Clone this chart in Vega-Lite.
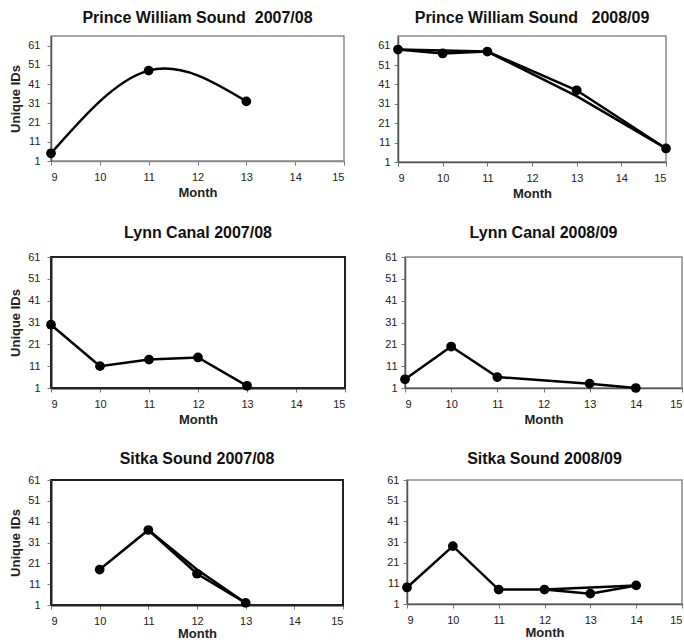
{
  "$schema": "https://vega.github.io/schema/vega-lite/v6.json",
  "padding": {"left": 8, "top": 9, "right": 0, "bottom": 0},
  "background": "white",
  "config": {
    "font": "Liberation Sans",
    "title": {"fontSize": 16, "fontWeight": "bold", "color": "#111", "offset": 10, "frame": "group", "anchor": "middle"},
    "axis": {"grid": false, "labelFontSize": 11, "labelColor": "#222", "titleFontSize": 13, "titleFontWeight": "bold", "titleColor": "#222", "tickSize": 4, "tickColor": "#777", "labelFont": "Liberation Sans", "titleFont": "Liberation Sans"},
    "axisX": {"labelPadding": 6, "titlePadding": 4},
    "axisY": {"labelPadding": 7, "titlePadding": 5},
    "line": {"color": "black", "strokeWidth": 2.5},
    "circle": {"color": "black", "opacity": 1, "size": 95}
  },
  "datasets": {
    "pts": [
      {"panel": "p1", "series": "a", "month": 9, "ids": 5},
      {"panel": "p1", "series": "a", "month": 11, "ids": 48},
      {"panel": "p1", "series": "a", "month": 13, "ids": 32},
      {"panel": "p2", "series": "a", "month": 9, "ids": 59},
      {"panel": "p2", "series": "a", "month": 10, "ids": 57},
      {"panel": "p2", "series": "a", "month": 11, "ids": 58},
      {"panel": "p2", "series": "a", "month": 13, "ids": 38},
      {"panel": "p2", "series": "a", "month": 15, "ids": 8},
      {"panel": "p2", "series": "b", "month": 9, "ids": 59},
      {"panel": "p2", "series": "b", "month": 11, "ids": 58},
      {"panel": "p2", "series": "b", "month": 13, "ids": 35},
      {"panel": "p2", "series": "b", "month": 15, "ids": 8},
      {"panel": "p3", "series": "a", "month": 9, "ids": 30},
      {"panel": "p3", "series": "a", "month": 10, "ids": 11},
      {"panel": "p3", "series": "a", "month": 11, "ids": 14},
      {"panel": "p3", "series": "a", "month": 12, "ids": 15},
      {"panel": "p3", "series": "a", "month": 13, "ids": 2},
      {"panel": "p4", "series": "a", "month": 9, "ids": 5},
      {"panel": "p4", "series": "a", "month": 10, "ids": 20},
      {"panel": "p4", "series": "a", "month": 11, "ids": 6},
      {"panel": "p4", "series": "a", "month": 13, "ids": 3},
      {"panel": "p4", "series": "a", "month": 14, "ids": 1},
      {"panel": "p5", "series": "a", "month": 10, "ids": 18},
      {"panel": "p5", "series": "a", "month": 11, "ids": 37},
      {"panel": "p5", "series": "a", "month": 12, "ids": 16},
      {"panel": "p5", "series": "a", "month": 13, "ids": 2},
      {"panel": "p5", "series": "b", "month": 11, "ids": 37},
      {"panel": "p5", "series": "b", "month": 12, "ids": 18},
      {"panel": "p5", "series": "b", "month": 13, "ids": 2},
      {"panel": "p6", "series": "a", "month": 9, "ids": 9},
      {"panel": "p6", "series": "a", "month": 10, "ids": 29},
      {"panel": "p6", "series": "a", "month": 11, "ids": 8},
      {"panel": "p6", "series": "a", "month": 12, "ids": 8},
      {"panel": "p6", "series": "a", "month": 13, "ids": 6},
      {"panel": "p6", "series": "a", "month": 14, "ids": 10},
      {"panel": "p6", "series": "b", "month": 12, "ids": 8},
      {"panel": "p6", "series": "b", "month": 13, "ids": 9},
      {"panel": "p6", "series": "b", "month": 14, "ids": 10}
    ]
  },
  "spacing": 23,
  "vconcat": [
    {
      "spacing": 31,
      "hconcat": [
        {
          "title": "Prince William Sound\u00a0 2007/08",
          "width": 293, "height": 125,
          "view": {"stroke": "#8a8a8a", "strokeWidth": 1.5},
          "data": {"name": "pts"},
          "transform": [{"filter": "datum.panel == 'p1'"}],
          "encoding": {
            "x": {"field": "month", "type": "quantitative", "scale": {"domain": [9, 15], "nice": false, "zero": false}, "axis": {"values": [9, 10, 11, 12, 13, 14, 15], "title": "Month", "domainColor": "#8a8a8a", "domainWidth": 1.5}},
            "y": {"field": "ids", "type": "quantitative", "scale": {"domain": [1, 66], "nice": false, "zero": false}, "axis": {"values": [1, 11, 21, 31, 41, 51, 61], "title": "Unique IDs", "domainColor": "#555", "domainWidth": 1.5}}
          },
          "layer": [
            {"mark": {"type": "line", "interpolate": "natural"}, "encoding": {"detail": {"field": "series"}}},
            {"transform": [{"filter": "datum.series == 'a'"}], "mark": {"type": "circle"}, "encoding": {}}
          ]
        },
        {
          "title": "Prince William Sound\u00a0\u00a0 2008/09",
          "width": 268, "height": 126,
          "view": {"stroke": "#8a8a8a", "strokeWidth": 1.5},
          "data": {"name": "pts"},
          "transform": [{"filter": "datum.panel == 'p2'"}],
          "encoding": {
            "x": {"field": "month", "type": "quantitative", "scale": {"domain": [9, 15], "nice": false, "zero": false}, "axis": {"values": [9, 10, 11, 12, 13, 14, 15], "title": "Month", "domainColor": "#555", "domainWidth": 1.5}},
            "y": {"field": "ids", "type": "quantitative", "scale": {"domain": [1, 66], "nice": false, "zero": false}, "axis": {"values": [1, 11, 21, 31, 41, 51, 61], "title": null, "labelPadding": 4, "domainColor": "#555", "domainWidth": 1.5}}
          },
          "layer": [
            {"mark": {"type": "line"}, "encoding": {"detail": {"field": "series"}}},
            {"transform": [{"filter": "datum.series == 'a'"}], "mark": {"type": "circle"}, "encoding": {}}
          ]
        }
      ]
    },
    {
      "spacing": 37,
      "hconcat": [
        {
          "title": "Lynn Canal 2007/08",
          "width": 294, "height": 131,
          "view": {"stroke": "#222", "strokeWidth": 2},
          "data": {"name": "pts"},
          "transform": [{"filter": "datum.panel == 'p3'"}],
          "encoding": {
            "x": {"field": "month", "type": "quantitative", "scale": {"domain": [9, 15], "nice": false, "zero": false}, "axis": {"values": [9, 10, 11, 12, 13, 14, 15], "title": "Month", "domainColor": "#222", "domainWidth": 2}},
            "y": {"field": "ids", "type": "quantitative", "scale": {"domain": [1, 61], "nice": false, "zero": false}, "axis": {"values": [1, 11, 21, 31, 41, 51, 61], "title": "Unique IDs", "domainColor": "#222", "domainWidth": 2}}
          },
          "layer": [
            {"mark": {"type": "line"}, "encoding": {"detail": {"field": "series"}}},
            {"transform": [{"filter": "datum.series == 'a'"}], "mark": {"type": "circle"}, "encoding": {}}
          ]
        },
        {
          "title": "Lynn Canal 2008/09",
          "width": 277, "height": 131,
          "view": {"stroke": "#8a8a8a", "strokeWidth": 1.5},
          "data": {"name": "pts"},
          "transform": [{"filter": "datum.panel == 'p4'"}],
          "encoding": {
            "x": {"field": "month", "type": "quantitative", "scale": {"domain": [9, 15], "nice": false, "zero": false}, "axis": {"values": [9, 10, 11, 12, 13, 14, 15], "title": "Month", "domainColor": "#555", "domainWidth": 1.5}},
            "y": {"field": "ids", "type": "quantitative", "scale": {"domain": [1, 61], "nice": false, "zero": false}, "axis": {"values": [1, 11, 21, 31, 41, 51, 61], "title": null, "labelPadding": 4, "domainColor": "#555", "domainWidth": 1.5}}
          },
          "layer": [
            {"mark": {"type": "line"}, "encoding": {"detail": {"field": "series"}}},
            {"transform": [{"filter": "datum.series == 'a'"}], "mark": {"type": "circle"}, "encoding": {}}
          ]
        }
      ]
    },
    {
      "spacing": 41,
      "hconcat": [
        {
          "title": {"text": "Sitka Sound 2007/08", "offset": 7},
          "width": 292, "height": 125,
          "view": {"stroke": "#222", "strokeWidth": 2},
          "data": {"name": "pts"},
          "transform": [{"filter": "datum.panel == 'p5'"}],
          "encoding": {
            "x": {"field": "month", "type": "quantitative", "scale": {"domain": [9, 15], "nice": false, "zero": false}, "axis": {"values": [9, 10, 11, 12, 13, 14, 15], "title": "Month", "titlePadding": 1, "domainColor": "#222", "domainWidth": 2}},
            "y": {"field": "ids", "type": "quantitative", "scale": {"domain": [1, 61], "nice": false, "zero": false}, "axis": {"values": [1, 11, 21, 31, 41, 51, 61], "title": "Unique IDs", "domainColor": "#222", "domainWidth": 2}}
          },
          "layer": [
            {"mark": {"type": "line"}, "encoding": {"detail": {"field": "series"}}},
            {"transform": [{"filter": "datum.series == 'a'"}], "mark": {"type": "circle"}, "encoding": {}}
          ]
        },
        {
          "title": {"text": "Sitka Sound 2008/09", "offset": 7},
          "width": 275, "height": 124,
          "view": {"stroke": "#8a8a8a", "strokeWidth": 1.5},
          "data": {"name": "pts"},
          "transform": [{"filter": "datum.panel == 'p6'"}],
          "encoding": {
            "x": {"field": "month", "type": "quantitative", "scale": {"domain": [9, 15], "nice": false, "zero": false}, "axis": {"values": [9, 10, 11, 12, 13, 14, 15], "title": "Month", "titlePadding": 1, "domainColor": "#555", "domainWidth": 1.5}},
            "y": {"field": "ids", "type": "quantitative", "scale": {"domain": [1, 61], "nice": false, "zero": false}, "axis": {"values": [1, 11, 21, 31, 41, 51, 61], "title": null, "labelPadding": 4, "domainColor": "#555", "domainWidth": 1.5}}
          },
          "layer": [
            {"mark": {"type": "line"}, "encoding": {"detail": {"field": "series"}}},
            {"transform": [{"filter": "datum.series == 'a'"}], "mark": {"type": "circle"}, "encoding": {}}
          ]
        }
      ]
    }
  ]
}
